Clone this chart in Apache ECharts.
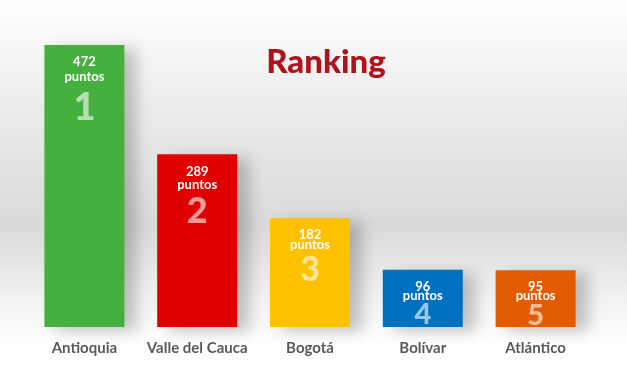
<!DOCTYPE html>
<html>
<head>
<meta charset="utf-8">
<script src="https://cdn.jsdelivr.net/npm/echarts@6/dist/echarts.min.js"></script>
<style>
  html, body { margin: 0; padding: 0; }
  #chart { width: 627px; height: 376px; }
</style>
</head>
<body>
<div id="chart"></div>
<script>
const categories = ['Antioquia', 'Valle del Cauca', 'Bogotá', 'Bolívar', 'Atlántico'];
const puntos = [472, 289, 182, 96, 95];
const ranks = ['1', '2', '3', '4', '5'];
const colors = ['#45B03D', '#E00000', '#FFC000', '#0070C0', '#E35B00'];

const chart = echarts.init(document.getElementById('chart'));

// label spacing shrinks with bar height
function spacing(v) {
    if (v > 400) return { d: 10, l1: 14, l2: 16, l3: 46, fs: 38 };
    if (v > 250) return { d: 10, l1: 14, l2: 12, l3: 42, fs: 36 };
    if (v > 150) return { d: 11, l1: 12, l2: 8, l3: 42, fs: 34 };
    return { d: 11, l1: 12, l2: 6, l3: 32, fs: 29 };
}

const data = puntos.map((v, i) => {
    const s = spacing(v);
    return {
        value: v,
        itemStyle: { color: colors[i] },
        label: {
            show: true,
            position: 'insideTop',
            distance: s.d,
            formatter: '{v|' + v + '}\n{p|puntos}\n{r|' + ranks[i] + '}',
            rich: {
                v: { color: '#fff', fontFamily: 'Lato', fontWeight: 'bold', fontSize: 13, lineHeight: s.l1 },
                p: { color: '#fff', fontFamily: 'Lato', fontWeight: 'bold', fontSize: 13, lineHeight: s.l2 },
                r: { color: 'rgba(255,255,255,0.6)', fontFamily: 'Lato', fontWeight: 900, fontSize: s.fs, lineHeight: s.l3 }
            }
        }
    };
});

chart.setOption({
    backgroundColor: {
        type: 'linear', x: 0, y: 0, x2: 0, y2: 1,
        colorStops: [
            { offset: 0, color: '#ffffff' },
            { offset: 0.25, color: '#eeeeee' },
            { offset: 0.6, color: '#d9d9d9' },
            { offset: 0.8, color: '#f2f2f2' },
            { offset: 0.92, color: '#ffffff' },
            { offset: 1, color: '#ffffff' }
        ]
    },
    title: {
        text: 'Ranking',
        left: 321,
        top: 41,
        textAlign: 'center',
        textStyle: { color: '#B0121B', fontFamily: 'Lato', fontWeight: 900, fontSize: 33 }
    },
    grid: { left: 28, right: 35, top: 45, bottom: 49 },
    xAxis: {
        type: 'category',
        data: categories,
        axisLine: { show: false },
        axisTick: { show: false },
        axisLabel: { interval: 0, color: '#595959', fontFamily: 'Lato', fontWeight: 'bold', fontSize: 15, margin: 14 }
    },
    yAxis: {
        type: 'value',
        min: 0,
        max: 472,
        show: false
    },
    series: [{
        type: 'bar',
        barWidth: 80,
        data: data,
        itemStyle: {
            shadowColor: 'rgba(0,0,0,0.22)',
            shadowBlur: 14,
            shadowOffsetX: 12,
            shadowOffsetY: 4
        }
    }]
});
</script>
</body>
</html>
